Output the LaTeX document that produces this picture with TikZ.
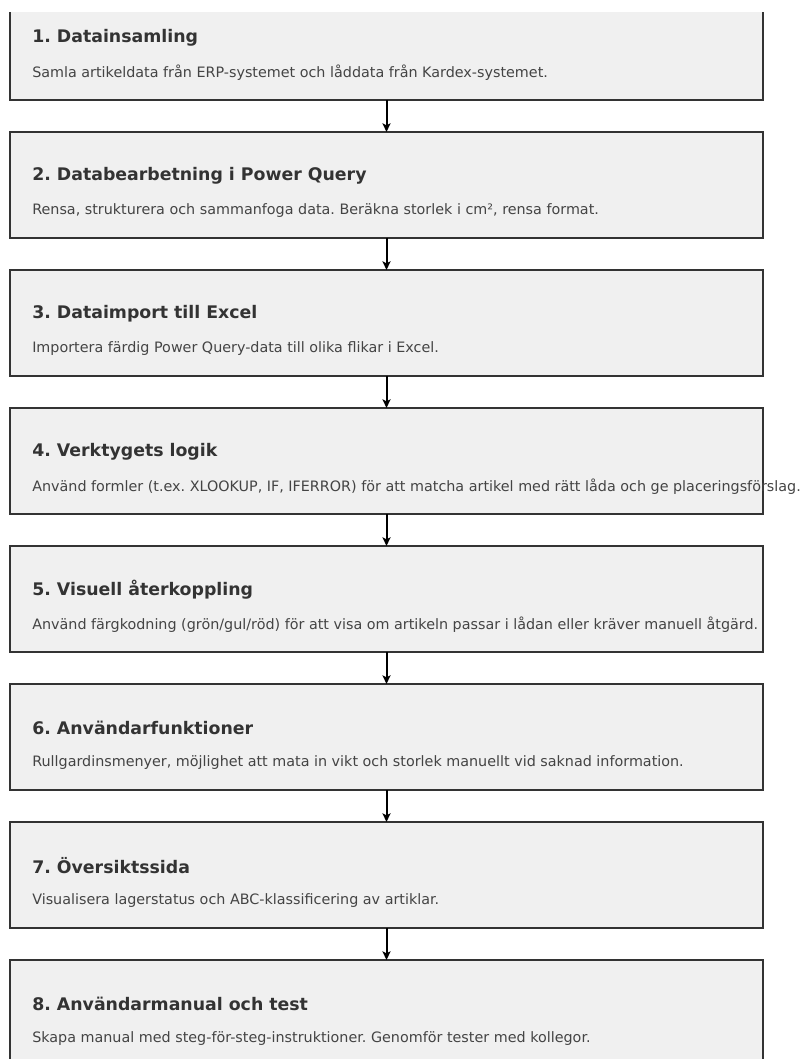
\documentclass[tikz,border=0pt]{standalone}
\usepackage{fontspec}
\setmainfont{DejaVu Sans}
\usetikzlibrary{positioning,arrows.meta}
\definecolor{boxfill}{HTML}{F0F0F0}
\definecolor{boxline}{HTML}{333333}
\definecolor{titlecol}{HTML}{333333}
\definecolor{bodycol}{HTML}{444444}
\tikzset{
    stepbox/.style={draw=boxline, line width=1.3pt, fill=boxfill, minimum width=564.75pt, minimum height=79.5pt, inner sep=0pt, outer sep=0pt},
    steptitle/.style={anchor=west, inner sep=0pt, text=titlecol, font=\fontsize{13}{15}\selectfont\bfseries},
    stepbody/.style={anchor=west, inner sep=0pt, text=bodycol, font=\fontsize{10.75}{13}\selectfont},
    flow/.style={-{Stealth[length=6.5pt,width=6pt,inset=1.5pt]}, line width=1.5pt, black}
}
\frenchspacing
\begin{document}
\begin{tikzpicture}[x=0.75pt, y=-0.75pt]
    \useasboundingbox (0,0) rectangle (799,1059);
    \clip (0,13) rectangle (799,1059);

    %boxes
    \node[stepbox] (b1) at (386.5,47) {};
    \node[stepbox, below=24pt of b1] (b2) {};
    \node[stepbox, below=24pt of b2] (b3) {};
    \node[stepbox, below=24pt of b3] (b4) {};
    \node[stepbox, below=24pt of b4] (b5) {};
    \node[stepbox, below=24pt of b5] (b6) {};
    \node[stepbox, below=24pt of b6] (b7) {};
    \node[stepbox, below=24pt of b7] (b8) {};

    %titles
    \node[steptitle] (t1) at ([shift={(22,44)}]b1.north west) {1. Datainsamling};
    \node[steptitle] (t2) at ([shift={(22,44)}]b2.north west) {2. Databearbetning i Power Query};
    \node[steptitle] (t3) at ([shift={(22,44)}]b3.north west) {3. Dataimport till Excel};
    \node[steptitle] (t4) at ([shift={(22,44)}]b4.north west) {4. Verktygets logik};
    \node[steptitle] (t5) at ([shift={(22,44)}]b5.north west) {5. Visuell återkoppling};
    \node[steptitle] (t6) at ([shift={(22,44)}]b6.north west) {6. Användarfunktioner};
    \node[steptitle] (t7) at ([shift={(22,44)}]b7.north west) {7. Översiktssida};
    \node[steptitle] (t8) at ([shift={(22,44)}]b8.north west) {8. Användarmanual och test};

    %texts
    \node[stepbody] (d1) at ([shift={(22,79)}]b1.north west) {Samla artikeldata från ERP-systemet och låddata från Kardex-systemet.};
    \node[stepbody] (d2) at ([shift={(22,79)}]b2.north west) {Rensa, strukturera och sammanfoga data. Beräkna storlek i cm², rensa format.};
    \node[stepbody] (d3) at ([shift={(22,79)}]b3.north west) {Importera färdig Power Query-data till olika flikar i Excel.};
    \node[stepbody] (d4) at ([shift={(22,79)}]b4.north west) {Använd formler (t.ex. XLOOKUP, IF, IFERROR) för att matcha artikel med rätt låda och ge placeringsförslag.};
    \node[stepbody] (d5) at ([shift={(22,79)}]b5.north west) {Använd färgkodning (grön/gul/röd) för att visa om artikeln passar i lådan eller kräver manuell åtgärd.};
    \node[stepbody] (d6) at ([shift={(22,79)}]b6.north west) {Rullgardinsmenyer, möjlighet att mata in vikt och storlek manuellt vid saknad information.};
    \node[stepbody] (d7) at ([shift={(22,79)}]b7.north west) {Visualisera lagerstatus och ABC-klassificering av artiklar.};
    \node[stepbody] (d8) at ([shift={(22,79)}]b8.north west) {Skapa manual med steg-för-steg-instruktioner. Genomför tester med kollegor.};

    %arrows
    \draw[flow] (b1) -- (b2);
    \draw[flow] (b2) -- (b3);
    \draw[flow] (b3) -- (b4);
    \draw[flow] (b4) -- (b5);
    \draw[flow] (b5) -- (b6);
    \draw[flow] (b6) -- (b7);
    \draw[flow] (b7) -- (b8);
\end{tikzpicture}
\end{document}
